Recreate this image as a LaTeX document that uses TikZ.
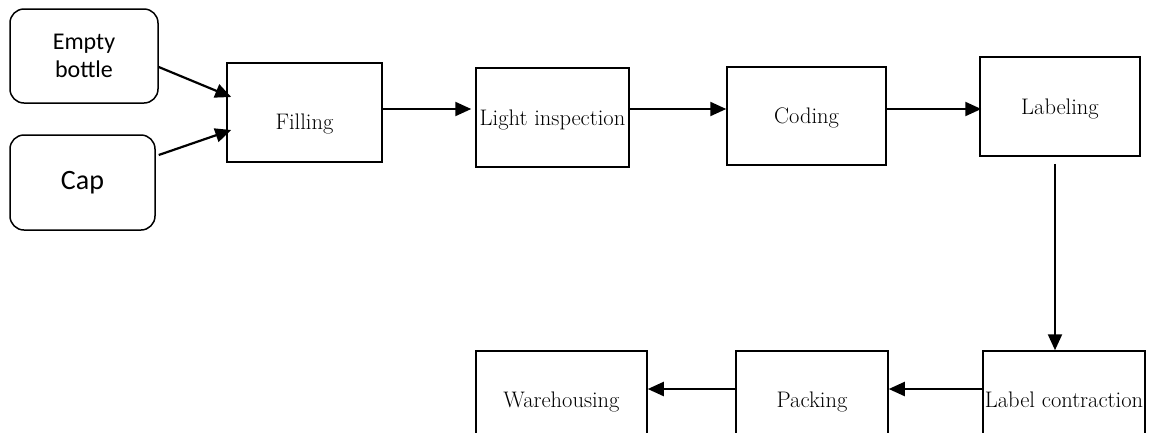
\documentclass[tikz,border=0pt]{standalone}
\usepackage{fontspec}
\newfontfamily\calibrifont{Carlito}
\usetikzlibrary{arrows.meta}
\tikzset{
    source/.style={draw=black, line width=1.5pt, rounded corners=14pt, inner sep=0pt,
        font=\calibrifont\fontsize{24}{28}\selectfont, align=center},
    process/.style={draw=black, line width=1.5pt, inner sep=0pt,
        font=\fontsize{22.5}{26}\selectfont, text height=15.4pt, text depth=0pt},
    flow/.style={draw=black, line width=2.2pt, -{Triangle[length=16pt,width=14pt]}},
}
\begin{document}
\begin{tikzpicture}[x=1pt, y=-1pt]
	\useasboundingbox (0,0) rectangle (1149,432);
	\clip (0,0) rectangle (1149,432);
	% inputs
	\node[source, minimum width=148pt, minimum height=94pt] (bottle) at (84,56) {Empty\\bottle};
	\node[source, minimum width=145pt, minimum height=95pt, font=\calibrifont\fontsize{28}{32}\selectfont] (cap) at (82.5,182.5) {Cap};
	% top row
	\node[process, minimum width=155pt, minimum height=99pt, text height=33.4pt] (filling) at (304.5,112.5) {Filling};
	\node[process, minimum width=153pt, minimum height=99pt] (light) at (552.5,117.5) {Light inspection};
	\node[process, minimum width=159pt, minimum height=98pt] (coding) at (806.5,116) {Coding};
	\node[process, minimum width=160pt, minimum height=99pt] (labeling) at (1060,106.5) {Labeling};
	% bottom row
	\node[process, minimum width=162pt, minimum height=98pt] (contraction) at (1064,400) {Label contraction};
	\node[process, minimum width=152pt, minimum height=98pt] (packing) at (812,400) {Packing};
	\node[process, minimum width=171pt, minimum height=98pt] (warehousing) at (561.5,400) {Warehousing};
	% connectors
	\draw[flow] ([yshift=-11pt]bottle.east) -- ([xshift=5pt,yshift=15.5pt]filling.west);
	\draw[flow] ([xshift=3pt,yshift=27.5pt]cap.east) -- ([xshift=5pt,yshift=-17.5pt]filling.west);
	\coordinate (f1) at ([yshift=3.5pt]filling.east);
	\coordinate (l1) at ([yshift=8.5pt]light.east);
	\coordinate (c1) at ([yshift=7pt]coding.east);
	\coordinate (d1) at ([xshift=-5pt]labeling.south);
	\coordinate (k1) at ([yshift=11pt]contraction.west);
	\coordinate (p1) at ([yshift=11pt]packing.west);
	\draw[flow] (f1) -- ([xshift=-4pt]f1 -| light.west);
	\draw[flow] (l1) -- (l1 -| coding.west);
	\draw[flow] (c1) -- ([xshift=2pt]c1 -| labeling.west);
	\draw[flow, shorten <=7pt] (d1) -- (d1 |- contraction.north);
	\draw[flow] (k1) -- (k1 -| packing.east);
	\draw[flow] (p1) -- (p1 -| warehousing.east);
\end{tikzpicture}
\end{document}
